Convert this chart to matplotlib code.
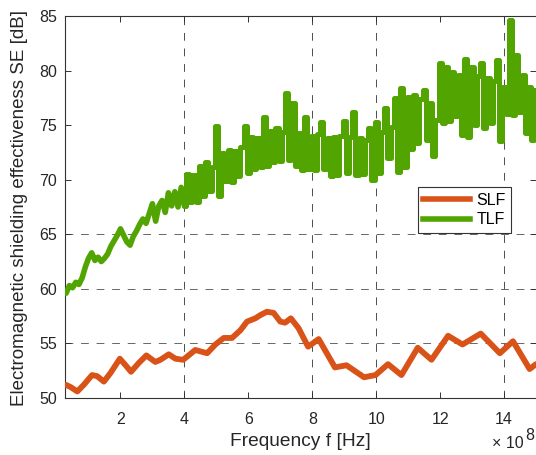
import numpy as np
import matplotlib
matplotlib.use('Agg')
import matplotlib.pyplot as plt
from matplotlib.lines import Line2D
from matplotlib.ticker import FuncFormatter

plt.rcParams['font.family'] = ['Liberation Sans', 'DejaVu Sans']

# SLF: frequency [x1e8 Hz] and shielding effectiveness [dB]
slf_f = [0.3, 0.44, 0.65, 0.85, 1.11, 1.27, 1.48, 1.69, 1.98, 2.16, 2.33, 2.57,
         2.81, 3.09, 3.25, 3.51, 3.72, 3.96, 4.13, 4.34, 4.71, 4.97, 5.23, 5.49,
         5.75, 5.96, 6.22, 6.38, 6.58, 6.79, 7.0, 7.15, 7.33, 7.57, 7.87, 8.2,
         8.71, 9.07, 9.62, 9.98, 10.37, 10.79, 11.3, 11.73, 12.25, 12.7, 13.27,
         13.87, 14.28, 14.8, 15.0]
slf_se = [51.2, 51.0, 50.6, 51.2, 52.1, 52.0, 51.5, 52.3, 53.6, 53.0, 52.4, 53.2,
          53.9, 53.3, 53.5, 54.0, 53.6, 53.5, 53.9, 54.4, 54.1, 54.9, 55.5, 55.5,
          56.2, 57.0, 57.3, 57.6, 57.9, 57.8, 57.0, 56.9, 57.3, 56.4, 54.7, 55.4,
          52.8, 53.0, 51.9, 52.1, 53.1, 52.1, 54.6, 53.5, 55.7, 54.9, 55.9,
          54.1, 55.2, 52.65, 53.1]

# TLF: sweep from 0.3e8 to 15e8 Hz in 0.1e8 steps
tlf_se = [
    59.6, 60.3, 60.1, 60.6, 60.4, 61.0, 62.0, 62.8, 63.3, 62.6,
    62.9, 62.5, 62.8, 63.2, 63.9, 64.4, 64.9, 65.5, 64.9, 64.3,
    64.0, 64.8, 65.3, 65.9, 66.4, 66.0, 66.9, 67.8, 66.2, 67.6,
    68.1, 67.0, 68.8, 67.6, 68.9, 67.5, 69.3, 67.6, 70.5, 68.0,
    70.4, 68.0, 71.3, 68.5, 71.6, 69.0, 71.2, 74.9, 68.5, 72.4,
    69.9, 72.7, 69.8, 72.6, 70.3, 73.0, 74.9, 70.6, 73.9, 71.0,
    73.8, 71.2, 75.7, 71.3, 74.5, 71.6, 74.7, 71.7, 74.4, 77.9,
    71.8, 77.0, 71.3, 74.3, 70.9, 75.7, 71.0, 74.0, 70.9, 74.2,
    75.3, 71.0, 73.8, 70.3, 73.9, 70.4, 74.0, 75.4, 70.6, 73.9,
    76.2, 70.4, 73.8, 70.5, 73.6, 74.7, 70.0, 75.3, 70.6, 74.4,
    76.6, 72.0, 74.8, 77.5, 70.7, 78.4, 71.2, 77.6, 72.8, 77.8,
    73.4, 77.4, 78.2, 73.6, 77.0, 72.2, 75.5, 80.7, 75.2, 80.3,
    75.4, 79.9, 75.8, 79.6, 74.1, 81.1, 73.9, 80.3, 75.0, 79.5,
    80.7, 74.7, 79.3, 75.2, 79.0, 81.0, 73.5, 78.5, 76.0, 84.6,
    75.9, 81.4, 76.2, 79.6, 74.3, 78.5, 73.6, 78.2,
]
tlf_f = np.linspace(0.3, 15.0, len(tlf_se))

grid_f = [4, 8, 10, 14]
grid_se = [55, 60, 65]

c_slf = '#D95319'
c_tlf = '#52A500'
c_text = '0.15'

fig = plt.figure(figsize=(5.36, 4.55), dpi=100)
ax = fig.add_axes([0.1222, 0.1253, 0.8778, 0.8396])

# sparse dashed grid
for g in grid_f:
    ax.axvline(g * 1e8, color='0.3', lw=0.7, dashes=(8, 8), zorder=1)
for g in grid_se:
    ax.axhline(g, color='0.4', lw=0.7, dashes=(8, 8), zorder=1)

ax.plot(np.array(slf_f) * 1e8, slf_se, color=c_slf, lw=4.2, zorder=3,
        solid_joinstyle='round', solid_capstyle='round')

# TLF: smooth trace at low frequency, stepped where it gets noisy
tlf_se = np.array(tlf_se)
split = 37
ax.plot(tlf_f[:split + 1] * 1e8, tlf_se[:split + 1], color=c_tlf, lw=4.0, zorder=3,
        solid_joinstyle='round', solid_capstyle='round')
ax.plot(tlf_f[split:] * 1e8, tlf_se[split:], color=c_tlf, lw=3.6, zorder=3,
        drawstyle='steps-mid', solid_joinstyle='round', solid_capstyle='round')

ax.set_xlim(2.8e7, 1.5e9)
ax.set_ylim(50, 85)
ax.set_xticks(np.arange(2, 15, 2) * 1e8)
ax.set_yticks(np.arange(50, 86, 5))
ax.xaxis.set_major_formatter(FuncFormatter(lambda v, p: f'{v / 1e8:g}'))

ax.tick_params(direction='in', length=4, width=0.7, color='0.2',
               top=True, right=True, labelsize=11.5, labelcolor=c_text)
ax.tick_params(axis='x', pad=10)
ax.tick_params(axis='y', pad=6)
for side in ['left', 'bottom', 'top']:
    ax.spines[side].set_color('0.2')
    ax.spines[side].set_linewidth(0.8)
ax.spines['right'].set_visible(False)

fig.text(19.5 / 536, 1 - 208 / 455, 'Electromagnetic shielding effectiveness SE [dB]',
         rotation=90, ha='center', va='center', fontsize=13.5, color=c_text)
fig.text(300 / 536, 1 - 441 / 455, 'Frequency f [Hz]',
         ha='center', va='center', fontsize=13.8, color=c_text)
fig.text(492 / 536, 1 - 444 / 455, '× 10', ha='left', va='center',
         fontsize=11.5, color=c_text)
fig.text(525 / 536, 1 - 435 / 455, '8', ha='left', va='center',
         fontsize=11.5, color=c_text)

handles = [Line2D([], [], color=c_slf, lw=4.0), Line2D([], [], color=c_tlf, lw=4.0)]
leg = ax.legend(handles, ['SLF', 'TLF'], loc='upper left',
                bbox_to_anchor=(0.749, 0.552), borderaxespad=0,
                fontsize=11.5, handlelength=2.9, handletextpad=0.4,
                borderpad=0.35, labelspacing=0.3, fancybox=False, framealpha=1)
leg.get_frame().set_edgecolor('0.2')
leg.get_frame().set_linewidth(0.8)

fig.savefig('out.png', dpi=100)
